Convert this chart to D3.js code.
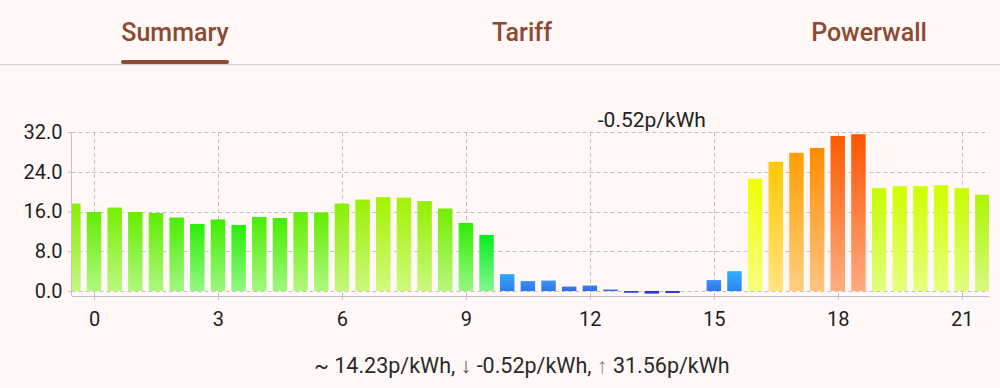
<!DOCTYPE html>
<html>
  <head>
    <meta charset="utf-8">
    <title>Tariff summary</title>
    <script src="https://d3js.org/d3.v7.min.js"></script>
  </head>
  <body>
    <style>
      body { margin: 0; background: #fff8f6; font-family: Roboto, "Noto Sans", sans-serif; }
      .tab { font-size: 25px; font-weight: 500; fill: #8c4a32; }
      .grid line { stroke: #c4c0c0; stroke-dasharray: 4,3; }
      .axis path, .axis line { stroke: #c4c0c0; }
      .axis text { font-size: 20px; fill: #1e1e1e; font-family: Roboto, sans-serif; }
    </style>

    <div id="chart"></div>
    <script>

      var width = 1000,
        height = 388;

      // half-hour slot start (hours) and price in p/kWh
      var slots = d3.range(-0.5, 22, 0.5);
      var prices = [
        17.6, 15.9, 16.8, 15.9, 15.7, 14.8, 13.5, 14.4, 13.3, 14.9,
        14.7, 15.9, 15.8, 17.6, 18.4, 18.9, 18.8, 18.1, 16.6, 13.7,
        11.3, 3.4, 2.0, 2.1, 0.9, 1.1, 0.3, -0.35, -0.52, -0.4,
        0, 2.2, 4.0, 22.6, 26.0, 27.8, 28.8, 31.2, 31.56, 20.7,
        21.1, 21.1, 21.3, 20.7, 19.4
      ];
      var tabs = ["Summary", "Tariff", "Powerwall"];
      var xTicks = [0, 3, 6, 9, 12, 15, 18, 21];
      var yTicks = [0, 8, 16, 24, 32];
      var stats = [14.23, -0.52, 31.56];

      var svg = d3.select("#chart")
        .append("svg")
          .attr("width", width)
          .attr("height", height);

      // tabs header
      var tabX = d3.scalePoint().domain(tabs).range([175, 869]);
      svg.selectAll(".tab")
        .data(tabs)
        .enter().append("text")
          .attr("class", "tab")
          .attr("x", (d) => tabX(d))
          .attr("y", 41)
          .attr("text-anchor", "middle")
          .text((d) => d);
      svg.append("line")
        .attr("x1", 0).attr("x2", width)
        .attr("y1", 64.5).attr("y2", 64.5)
        .attr("stroke", "#dccbc6");
      svg.append("rect")
        .attr("x", 121).attr("y", 60)
        .attr("width", 108).attr("height", 4)
        .attr("rx", 2)
        .attr("fill", "#8c4a32");

      var plotLeft = 71.5, plotRight = 989, plotTop = 132, plotBottom = 296;

      var x = d3.scaleLinear()
        .domain([-0.545, 21.66])
        .range([plotLeft, plotRight]);

      var y = d3.scaleLinear()
        .domain([-1, 32])
        .range([plotBottom, plotTop]);

      var color = d3.scaleLinear()
        .domain([-0.5, 0, 2, 4, 11, 14, 16, 18.5, 21, 22.6, 26, 28, 29, 31.5])
        .range(["#2a2ad0", "#3a6ae8", "#3a90f4", "#30b0ff", "#00ee22", "#33ee00",
                "#66ee00", "#9cf000", "#ccff00", "#eeff00", "#ffc800", "#ff9a00",
                "#ff8800", "#ff5500"])
        .clamp(true);

      // grid
      svg.append("g")
        .attr("class", "grid")
        .selectAll("line")
        .data(yTicks)
        .enter().append("line")
          .attr("x1", plotLeft).attr("x2", plotRight)
          .attr("y1", (d) => Math.round(y(d)) + 0.5)
          .attr("y2", (d) => Math.round(y(d)) + 0.5);
      svg.append("g")
        .attr("class", "grid")
        .selectAll("line")
        .data(xTicks)
        .enter().append("line")
          .attr("x1", (d) => Math.round(x(d)) + 0.5)
          .attr("x2", (d) => Math.round(x(d)) + 0.5)
          .attr("y1", plotTop).attr("y2", plotBottom);

      // bars
      svg.append("clipPath")
        .attr("id", "plot")
        .append("rect")
          .attr("x", plotLeft).attr("y", 0)
          .attr("width", plotRight - plotLeft).attr("height", height);

      var bw = x(0.35) - x(0);
      var defs = svg.append("defs");
      prices.forEach((v, i) => {
        var c = color(v);
        var c2 = v < 5 ? d3.interpolateRgb(c, "#2850e0")(0.45)
                       : d3.interpolateRgb(c, "#ffffff")(0.5);
        var g = defs.append("linearGradient")
          .attr("id", "g" + i)
          .attr("x1", 0).attr("y1", 0).attr("x2", 0).attr("y2", 1);
        g.append("stop").attr("offset", 0).attr("stop-color", c);
        g.append("stop").attr("offset", 1).attr("stop-color", c2);
      });

      svg.append("g")
        .attr("clip-path", "url(#plot)")
        .selectAll("rect")
        .data(prices)
        .enter().append("rect")
          .attr("x", (d, i) => x(slots[i]) - bw / 2)
          .attr("width", bw)
          .attr("y", (d) => y(Math.max(d, 0)))
          .attr("height", (d) => Math.abs(y(d) - y(0)))
          .attr("fill", (d, i) => "url(#g" + i + ")");

      // axes
      svg.append("g")
        .attr("class", "axis")
        .attr("transform", "translate(" + plotLeft + ",0)")
        .call(d3.axisLeft(y).tickValues(yTicks).tickSize(4).tickPadding(5)
          .tickFormat(d3.format(".1f")).tickSizeOuter(0))
        .call((g) => g.select(".domain").attr("d", "M0," + plotTop + "V" + plotBottom));
      svg.append("g")
        .attr("class", "axis")
        .attr("transform", "translate(0," + plotBottom + ")")
        .call(d3.axisBottom(x).tickValues(xTicks).tickSize(4).tickPadding(12)
          .tickFormat(d3.format("d")).tickSizeOuter(0));

      // min label above the cheapest slot
      var iMin = d3.minIndex(prices);
      svg.append("text")
        .attr("x", x(slots[iMin]))
        .attr("y", 127)
        .attr("text-anchor", "middle")
        .style("font-size", "21px")
        .style("fill", "#222")
        .text(stats[1].toFixed(2) + "p/kWh");

      // summary line
      var s = svg.append("text")
        .attr("x", 522)
        .attr("y", 373)
        .attr("text-anchor", "middle")
        .style("font-size", "21.5px")
        .style("fill", "#2a2a2a");
      s.append("tspan").text("~ " + stats[0].toFixed(2) + "p/kWh, ");
      s.append("tspan").style("fill", "#555").text("\u2193");
      s.append("tspan").text(" " + stats[1].toFixed(2) + "p/kWh, ");
      s.append("tspan").style("fill", "#888").text("\u2191");
      s.append("tspan").text(" " + stats[2].toFixed(2) + "p/kWh");

    </script>
  </body>
</html>
